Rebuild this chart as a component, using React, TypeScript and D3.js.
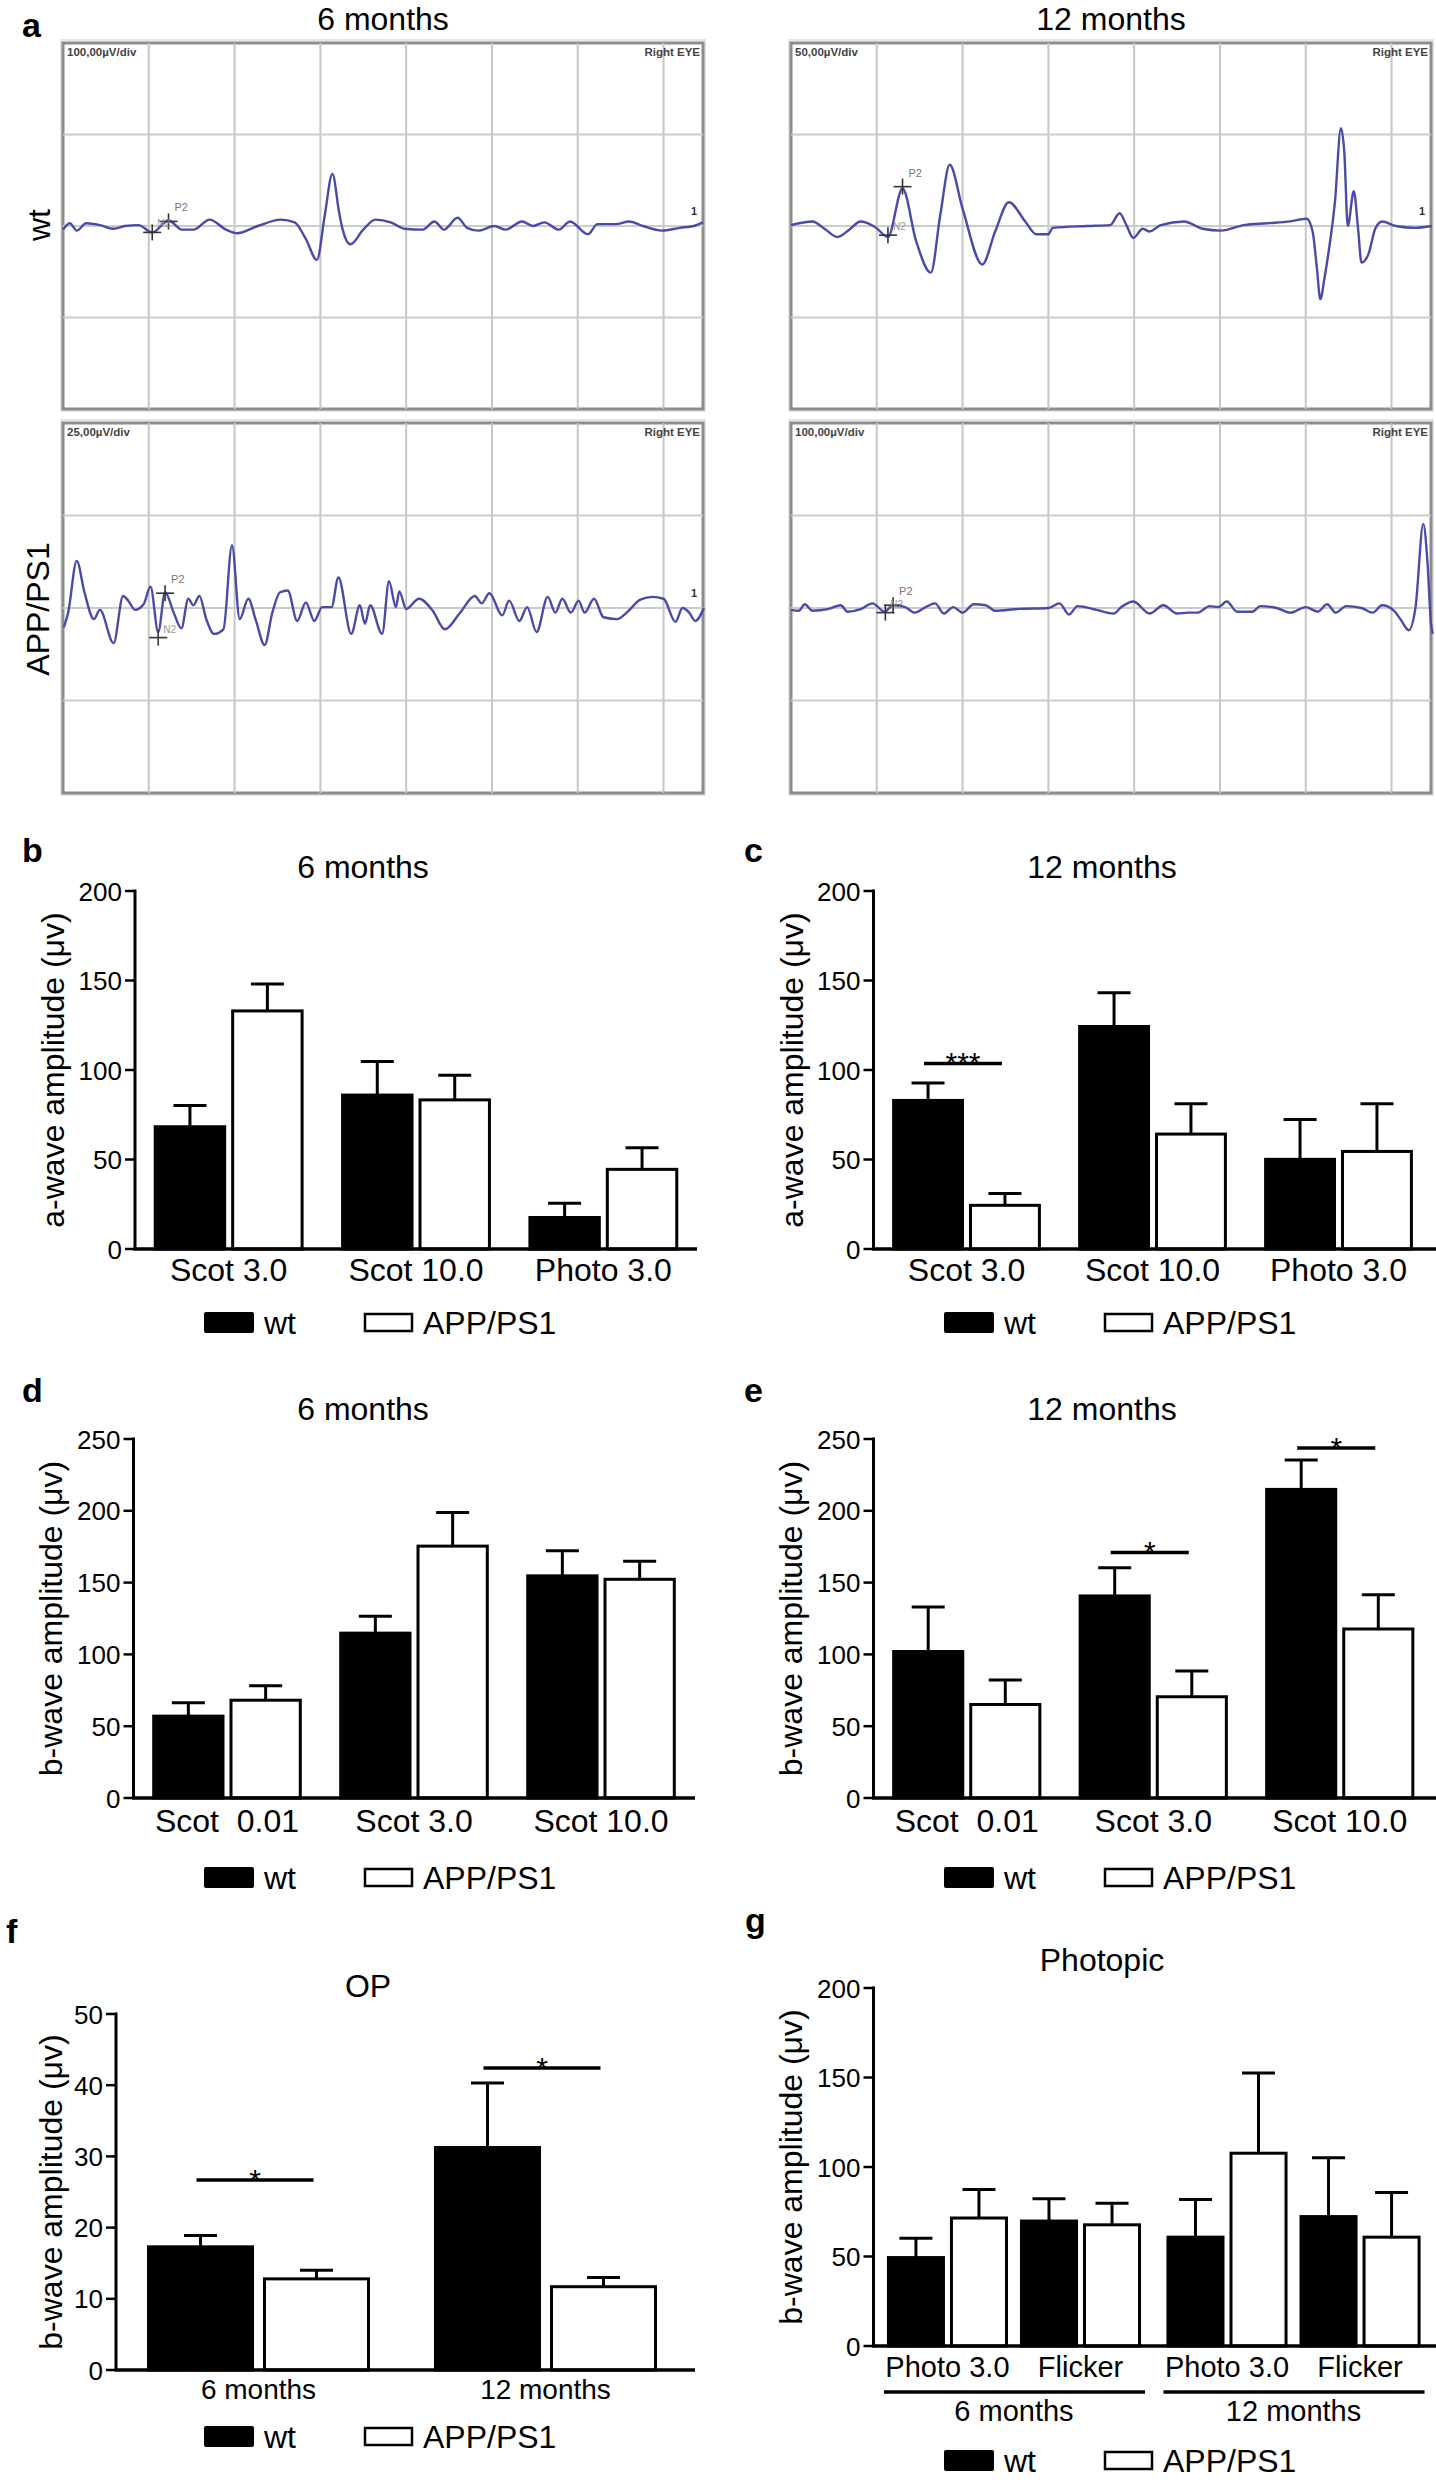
import React from "react";
import * as d3 from "d3";

const FONT = "'Liberation Sans', Arial, Helvetica, sans-serif";

type Pt = [number, number];

// ---------- Panel a: ERG traces, [time (grid div), amplitude (grid div)] ----------
const traceWt6: Pt[] = [[0,-0.04],[0.08,0.03],[0.16,-0.05],[0.27,0.03],[0.43,0.01],[0.59,-0.03],[0.72,0],[0.88,0.01],[1.04,-0.07],[1.23,0.06],[1.39,-0.04],[1.52,-0.04],[1.71,0.07],[1.9,-0.04],[2.03,-0.08],[2.27,0],[2.54,0.07],[2.7,0.04],[2.83,-0.14],[2.96,-0.37],[3.05,0.11],[3.14,0.57],[3.22,0.14],[3.26,-0.04],[3.35,-0.2],[3.5,-0.04],[3.64,0.07],[3.82,0.04],[3.98,-0.03],[4.19,-0.04],[4.33,0.05],[4.44,-0.04],[4.6,0.09],[4.71,-0.02],[4.84,-0.05],[5.03,0],[5.16,-0.04],[5.35,0.05],[5.48,0],[5.61,0.04],[5.78,-0.04],[5.91,0.05],[6.12,-0.09],[6.23,0.02],[6.44,0.02],[6.6,0.05],[6.76,0],[6.98,-0.05],[7.19,-0.02],[7.35,0],[7.46,0.04]];
const traceWt12: Pt[] = [[0,0.01],[0.25,0.05],[0.39,-0.03],[0.54,-0.12],[0.68,-0.04],[0.81,0.05],[0.98,-0.01],[1.13,-0.12],[1.3,0.41],[1.46,-0.17],[1.63,-0.51],[1.74,0.12],[1.85,0.67],[2.0,0.19],[2.23,-0.42],[2.38,-0.06],[2.54,0.26],[2.73,0.05],[2.86,-0.09],[3.0,-0.09],[3.05,-0.02],[3.45,0],[3.72,0.01],[3.83,0.14],[3.91,0.01],[3.99,-0.13],[4.1,-0.03],[4.18,-0.06],[4.31,0.01],[4.58,0.05],[4.8,-0.03],[5.01,-0.05],[5.28,0.01],[5.55,0.03],[5.82,0.05],[6.01,0.08],[6.08,-0.06],[6.13,-0.46],[6.17,-0.8],[6.22,-0.56],[6.27,-0.26],[6.34,0.26],[6.41,1.07],[6.45,0.8],[6.49,0],[6.56,0.38],[6.61,-0.03],[6.65,-0.4],[6.73,-0.31],[6.81,-0.03],[6.89,0.05],[7.05,0],[7.27,-0.02],[7.47,0]];
const traceApp6: Pt[] = [[0.01,-0.21],[0.06,-0.05],[0.16,0.51],[0.25,0.17],[0.36,-0.12],[0.43,-0.02],[0.59,-0.38],[0.7,0.13],[0.76,0.08],[0.84,-0.02],[0.94,0.04],[1.02,0.23],[1.11,-0.26],[1.19,0.17],[1.29,-0.05],[1.38,-0.22],[1.46,0.1],[1.52,0.03],[1.59,0.13],[1.67,-0.12],[1.76,-0.28],[1.87,-0.23],[1.97,0.68],[2.06,-0.12],[2.16,0.1],[2.25,-0.14],[2.35,-0.4],[2.44,-0.05],[2.53,0.17],[2.62,0.19],[2.73,-0.14],[2.83,0.06],[2.93,-0.14],[3.02,0.01],[3.13,0.01],[3.21,0.33],[3.36,-0.28],[3.46,0.03],[3.52,-0.17],[3.58,0.03],[3.72,-0.28],[3.8,0.29],[3.88,0.01],[3.92,0.18],[4.0,-0.01],[4.15,0.1],[4.31,-0.03],[4.45,-0.23],[4.63,-0.05],[4.8,0.13],[4.88,0.05],[4.97,0.16],[5.12,-0.08],[5.2,0.08],[5.32,-0.14],[5.41,0.01],[5.52,-0.26],[5.65,0.12],[5.74,-0.05],[5.82,0.1],[5.92,-0.05],[6.01,0.08],[6.08,-0.05],[6.19,0.1],[6.3,-0.1],[6.46,-0.12],[6.57,-0.05],[6.73,0.09],[6.87,0.12],[7.0,0.1],[7.14,-0.15],[7.22,0],[7.3,-0.05],[7.37,-0.14],[7.47,0]];
const traceApp12: Pt[] = [[0,-0.02],[0.09,-0.03],[0.16,0.04],[0.25,-0.03],[0.44,-0.01],[0.58,0.03],[0.66,-0.04],[0.82,-0.01],[0.95,0.05],[1.09,-0.04],[1.19,0.03],[1.33,0.01],[1.44,-0.05],[1.57,0.01],[1.68,0.05],[1.78,-0.06],[1.89,0.01],[2.0,-0.05],[2.13,0.04],[2.27,0.03],[2.38,-0.03],[2.65,-0.01],[3.0,0],[3.13,0.05],[3.24,-0.07],[3.34,0.02],[3.56,-0.02],[3.76,-0.06],[3.85,0.01],[3.99,0.07],[4.18,-0.06],[4.34,0.03],[4.5,-0.06],[4.63,-0.05],[4.74,-0.05],[4.88,0.02],[4.98,0.01],[5.08,0.07],[5.2,-0.04],[5.38,-0.04],[5.47,0.02],[5.66,0],[5.82,-0.05],[6.0,0.01],[6.14,-0.04],[6.25,0.04],[6.35,-0.05],[6.47,0.02],[6.65,0],[6.78,-0.05],[6.89,0.03],[7.03,-0.03],[7.11,-0.13],[7.2,-0.24],[7.28,0.01],[7.37,0.91],[7.42,0.48],[7.46,-0.17],[7.48,-0.28]];
const traceScaleLabels = ["100,00µV/div", "50,00µV/div", "25,00µV/div", "100,00µV/div"];
const traceMarksWt6: Pt[] = [[1.04, -0.07], [1.23, 0.05]];
const traceMarksWt12: Pt[] = [[1.13, -0.1], [1.3, 0.43]];
const traceMarksApp6: Pt[] = [[1.11, -0.32], [1.19, 0.16]];
const traceMarksApp12: Pt[] = [[1.1, -0.05], [1.19, 0.03]];

// ---------- Bar panels ----------
const groupNames = ["wt", "APP/PS1"];
const ticks200 = [0, 50, 100, 150, 200];
const ticks250 = [0, 50, 100, 150, 200, 250];
const ticks50 = [0, 10, 20, 30, 40, 50];

// b: a-wave 6 months
const catsAwave = ["Scot 3.0", "Scot 10.0", "Photo 3.0"];
const aWave6Wt = [68.3, 86, 17.6];
const aWave6WtErr = [11.8, 18.8, 8];
const aWave6App = [133, 83.3, 44.5];
const aWave6AppErr = [15, 13.7, 12.1];
// c: a-wave 12 months
const aWave12Wt = [83, 124.3, 50.1];
const aWave12WtErr = [9.8, 18.8, 22.2];
const aWave12App = [24.4, 64.2, 54.5];
const aWave12AppErr = [6.6, 16.9, 26.6];
// d: b-wave 6 months
const catsBwave = ["Scot  0.01", "Scot 3.0", "Scot 10.0"];
const bWave6Wt = [57, 114.8, 154.7];
const bWave6WtErr = [9.4, 11.7, 17.4];
const bWave6App = [68.1, 175.4, 152.3];
const bWave6AppErr = [10.1, 23.4, 12.5];
// e: b-wave 12 months
const bWave12Wt = [102, 140.7, 214.9];
const bWave12WtErr = [31, 19.6, 20.4];
const bWave12App = [65.1, 70.5, 117.7];
const bWave12AppErr = [17.1, 18, 23.9];
// f: OP
const catsOP = ["6 months", "12 months"];
const opWt = [17.3, 31.25];
const opWtErr = [1.6, 9.05];
const opApp = [12.8, 11.7];
const opAppErr = [1.2, 1.3];
// g: photopic
const catsAge = ["6 months", "12 months"];
const catsPhot = ["Photo 3.0", "Flicker"];
const photWt = [[49.4, 69.8], [60.8, 72.3]];
const photWtErr = [[10.8, 12.5], [21.1, 32.9]];
const photApp = [[71.5, 67.7], [107.7, 60.8]];
const photAppErr = [[16, 12.1], [44.8, 25]];

// significance: [category index, value level, stars]
const sigC: [number, number, string][] = [[0, 103.7, "***"]];
const sigE: [number, number, string][] = [[1, 171, "*"], [2, 243.7, "*"]];
const sigF: [number, number, string][] = [[0, 26.7, "*"], [1, 42.4, "*"]];

// ---------- Trace component ----------
function Trace(props: { x: number; y: number; w: number; h: number; data: Pt[]; label: string; marks: Pt[]; end?: boolean }) {
  const { x, y, w, h, data, label, marks, end } = props;
  const tx = d3.scaleLinear().domain([0, 7.46]).range([x, x + w]);
  const ty = d3.scaleLinear().domain([-2, 2]).range([y + h, y]);
  const line = d3.line<Pt>().x((d) => tx(d[0])).y((d) => ty(d[1])).curve(d3.curveMonotoneX);
  const vg = [1, 2, 3, 4, 5, 6, 7];
  const hg = [-1, 0, 1];
  return (
    <g>
      <rect x={x - 2} y={y - 3} width={w + 4} height={h + 5} fill="none" stroke="#e4e4e4" strokeWidth={2} />
      <rect x={x} y={y} width={w} height={h} fill="#fff" stroke="#8c8c8c" strokeWidth={3} />
      {vg.map((t) => (
        <line key={"v" + t} x1={tx(t)} x2={tx(t)} y1={y} y2={y + h} stroke="#c6c6c6" strokeWidth={2} />
      ))}
      {hg.map((v) => (
        <line key={"h" + v} x1={x} x2={x + w} y1={ty(v)} y2={ty(v)} stroke="#cbcbcb" strokeWidth={2.2} />
      ))}
      <text x={x + 4} y={y + 13} fontFamily={FONT} fontSize={11.5} fontWeight="bold" fill="#444">{label}</text>
      <text x={x + w - 3} y={y + 13} fontFamily={FONT} fontSize={11.5} fontWeight="bold" fill="#444" textAnchor="end">Right EYE</text>
      <path d={line(data) || ""} fill="none" stroke="#4a4aa8" strokeWidth={2.4} strokeLinejoin="round" />
      {marks.map((m, i) => (
        <g key={"m" + i} stroke="#333" strokeWidth={1.6}>
          <line x1={tx(m[0]) - 9} x2={tx(m[0]) + 9} y1={ty(m[1])} y2={ty(m[1])} />
          <line x1={tx(m[0])} x2={tx(m[0])} y1={ty(m[1]) - 8} y2={ty(m[1]) + 8} />
        </g>
      ))}
      <text x={tx(marks[1][0]) + 6} y={ty(Math.max(marks[0][1], marks[1][1])) - 10} fontFamily={FONT} fontSize={11} fill="#777">P2</text>
      <text x={tx(marks[0][0]) + 5} y={ty(marks[0][1]) - 5} fontFamily={FONT} fontSize={10} fill="#999">N2</text>
      {end && <text x={x + w - 6} y={ty(0.12)} fontFamily={FONT} fontSize={11} fontWeight="bold" fill="#333" textAnchor="end">1</text>}
    </g>
  );
}

// ---------- Bar helpers ----------
interface BarItem { x: number; w: number; v: number; e: number; fill: string; }

function BarsAndAxes(props: {
  axisX: number; yTop: number; y0: number; yMax: number; ticks: number[]; xEnd: number; items: BarItem[];
  yTitle: string; yTitleX: number; title: string; titleX: number; titleY: number; letter: string; letterX: number; letterY: number;
  sig?: { x1: number; x2: number; v: number; t: string }[];
}) {
  const p = props;
  const y = d3.scaleLinear().domain([0, p.yMax]).range([p.y0, p.yTop]);
  const capW = 33;
  return (
    <g>
      <text x={p.letterX} y={p.letterY} fontFamily={FONT} fontSize={34} fontWeight="bold">{p.letter}</text>
      <text x={p.titleX} y={p.titleY} fontFamily={FONT} fontSize={32} textAnchor="middle">{p.title}</text>
      {p.items.map((b, i) => {
        const cx = b.x + b.w / 2;
        return (
          <g key={i}>
            <line x1={cx} x2={cx} y1={y(b.v)} y2={y(b.v + b.e)} stroke="#000" strokeWidth={3} />
            <line x1={cx - capW / 2} x2={cx + capW / 2} y1={y(b.v + b.e)} y2={y(b.v + b.e)} stroke="#000" strokeWidth={3} />
            <rect x={b.x + 1.5} y={y(b.v)} width={b.w - 3} height={p.y0 - y(b.v)} fill={b.fill} stroke="#000" strokeWidth={3} />
          </g>
        );
      })}
      <line x1={p.axisX} x2={p.axisX} y1={p.yTop - 1.5} y2={p.y0} stroke="#000" strokeWidth={3} />
      <line x1={p.axisX - 1.5} x2={p.xEnd} y1={p.y0} y2={p.y0} stroke="#000" strokeWidth={3.5} />
      {p.ticks.map((t) => (
        <g key={t}>
          <line x1={p.axisX - 10} x2={p.axisX} y1={y(t)} y2={y(t)} stroke="#000" strokeWidth={2.5} />
          <text x={p.axisX - 13} y={y(t) + 9.5} fontFamily={FONT} fontSize={26} textAnchor="end">{t}</text>
        </g>
      ))}
      <text transform={`translate(${p.yTitleX},${(p.yTop + p.y0) / 2}) rotate(-90)`} y={11} fontFamily={FONT} fontSize={32} textAnchor="middle">{p.yTitle}</text>
      {(p.sig || []).map((s, i) => (
        <g key={"s" + i}>
          <line x1={s.x1} x2={s.x2} y1={y(s.v)} y2={y(s.v)} stroke="#000" strokeWidth={3.5} />
          <text x={(s.x1 + s.x2) / 2} y={y(s.v) + 10} fontFamily={FONT} fontSize={30} textAnchor="middle">{s.t}</text>
        </g>
      ))}
    </g>
  );
}

function Legend({ x, y }: { x: number; y: number }) {
  return (
    <g>
      <rect x={x} y={y - 10} width={50} height={21} fill="#000" rx={2} />
      <text x={x + 60} y={y + 11.5} fontFamily={FONT} fontSize={32}>{groupNames[0]}</text>
      <rect x={x + 161} y={y - 8} width={47} height={17} fill="#fff" stroke="#000" strokeWidth={2.5} />
      <text x={x + 219} y={y + 11.5} fontFamily={FONT} fontSize={32}>{groupNames[1]}</text>
    </g>
  );
}

function simpleItems(cats: string[], range: [number, number], pi: number, po: number, gap: number,
  wt: number[], wtE: number[], app: number[], appE: number[]) {
  const xb = d3.scaleBand<string>().domain(cats).range(range).paddingInner(pi).paddingOuter(po);
  const bw = (xb.bandwidth() - gap) / 2;
  const items: BarItem[] = [];
  cats.forEach((c, i) => {
    const x0 = xb(c) as number;
    items.push({ x: x0, w: bw, v: wt[i], e: wtE[i], fill: "#000" });
    items.push({ x: x0 + bw + gap, w: bw, v: app[i], e: appE[i], fill: "#fff" });
  });
  return { xb, bw, items };
}

function CatLabels({ xb, cats, y, size }: { xb: d3.ScaleBand<string>; cats: string[]; y: number; size: number }) {
  return (
    <g>
      {cats.map((c) => (
        <text key={c} x={(xb(c) as number) + xb.bandwidth() / 2} y={y} fontFamily={FONT} fontSize={size} textAnchor="middle" style={{ whiteSpace: "pre" }}>{c}</text>
      ))}
    </g>
  );
}

function sigLines(sig: [number, number, string][], cats: string[], xb: d3.ScaleBand<string>, bw: number, gap: number) {
  return sig.map(([i, v, t]) => {
    const x0 = xb(cats[i]) as number;
    return { x1: x0 + bw / 2 - 4, x2: x0 + bw + gap + bw / 2 - 3, v, t };
  });
}

export default function App() {
  const b = simpleItems(catsAwave, [135, 697], 0.2, 0.1, 5, aWave6Wt, aWave6WtErr, aWave6App, aWave6AppErr);
  const c = simpleItems(catsAwave, [873.5, 1431.5], 0.2, 0.1, 5, aWave12Wt, aWave12WtErr, aWave12App, aWave12AppErr);
  const d = simpleItems(catsBwave, [133.5, 694.5], 0.2, 0.1, 5, bWave6Wt, bWave6WtErr, bWave6App, bWave6AppErr);
  const e = simpleItems(catsBwave, [873.5, 1433], 0.2, 0.1, 5, bWave12Wt, bWave12WtErr, bWave12App, bWave12AppErr);
  const f = simpleItems(catsOP, [116, 688], 0.223, 0.108, 9, opWt, opWtErr, opApp, opAppErr);

  // g: nested bands
  const gOuter = d3.scaleBand<string>().domain(catsAge).range([873.5, 1434]).paddingInner(0.091).paddingOuter(0.048);
  const gInner = d3.scaleBand<string>().domain(catsPhot).range([0, gOuter.bandwidth()]).paddingInner(0.09).paddingOuter(0);
  const gGap = 5;
  const gbw = (gInner.bandwidth() - gGap) / 2;
  const gItems: BarItem[] = [];
  catsAge.forEach((a, ai) => {
    catsPhot.forEach((p, pi) => {
      const x0 = (gOuter(a) as number) + (gInner(p) as number);
      gItems.push({ x: x0, w: gbw, v: photWt[ai][pi], e: photWtErr[ai][pi], fill: "#000" });
      gItems.push({ x: x0 + gbw + gGap, w: gbw, v: photApp[ai][pi], e: photAppErr[ai][pi], fill: "#fff" });
    });
  });

  const tW = 640;
  return (
    <div style={{ position: "absolute", left: 0, top: 0 }}>
      <svg width={1436} height={2482} viewBox="0 0 1436 2482" style={{ display: "block", background: "#fff" }}>
        <rect x={0} y={0} width={1436} height={2482} fill="#fff" />
        {/* Panel a */}
        <text x={22} y={37} fontFamily={FONT} fontSize={34} fontWeight="bold">a</text>
        <text x={383} y={30} fontFamily={FONT} fontSize={32} textAnchor="middle">6 months</text>
        <text x={1111} y={30} fontFamily={FONT} fontSize={32} textAnchor="middle">12 months</text>
        <text transform="translate(39,225) rotate(-90)" y={11} fontFamily={FONT} fontSize={32} textAnchor="middle">wt</text>
        <text transform="translate(38,609) rotate(-90)" y={11} fontFamily={FONT} fontSize={32} textAnchor="middle">APP/PS1</text>
        <Trace x={63} y={43} w={tW} h={366} data={traceWt6} label={traceScaleLabels[0]} marks={traceMarksWt6} end />
        <Trace x={791} y={43} w={tW} h={366} data={traceWt12} label={traceScaleLabels[1]} marks={traceMarksWt12} end />
        <Trace x={63} y={423} w={tW} h={370} data={traceApp6} label={traceScaleLabels[2]} marks={traceMarksApp6} end />
        <Trace x={791} y={423} w={tW} h={370} data={traceApp12} label={traceScaleLabels[3]} marks={traceMarksApp12} />

        {/* Panel b */}
        <BarsAndAxes axisX={135} yTop={891} y0={1249} yMax={200} ticks={ticks200} xEnd={697} items={b.items}
          yTitle="a-wave amplitude (μv)" yTitleX={53} title="6 months" titleX={363} titleY={878}
          letter="b" letterX={22} letterY={862} />
        <CatLabels xb={b.xb} cats={catsAwave} y={1281} size={32} />
        <Legend x={204} y={1322} />

        {/* Panel c */}
        <BarsAndAxes axisX={873.5} yTop={891} y0={1249} yMax={200} ticks={ticks200} xEnd={1436} items={c.items}
          yTitle="a-wave amplitude (μv)" yTitleX={792} title="12 months" titleX={1102} titleY={878}
          letter="c" letterX={744} letterY={862} sig={sigLines(sigC, catsAwave, c.xb, c.bw, 5)} />
        <CatLabels xb={c.xb} cats={catsAwave} y={1281} size={32} />
        <Legend x={944} y={1322} />

        {/* Panel d */}
        <BarsAndAxes axisX={133.5} yTop={1439} y0={1798} yMax={250} ticks={ticks250} xEnd={695} items={d.items}
          yTitle="b-wave amplitude (μv)" yTitleX={51} title="6 months" titleX={363} titleY={1420}
          letter="d" letterX={22} letterY={1402} />
        <CatLabels xb={d.xb} cats={catsBwave} y={1832} size={32} />
        <Legend x={204} y={1877} />

        {/* Panel e */}
        <BarsAndAxes axisX={873.5} yTop={1439} y0={1798} yMax={250} ticks={ticks250} xEnd={1436} items={e.items}
          yTitle="b-wave amplitude (μv)" yTitleX={791} title="12 months" titleX={1102} titleY={1420}
          letter="e" letterX={744} letterY={1402} sig={sigLines(sigE, catsBwave, e.xb, e.bw, 5)} />
        <CatLabels xb={e.xb} cats={catsBwave} y={1832} size={32} />
        <Legend x={944} y={1877} />

        {/* Panel f */}
        <BarsAndAxes axisX={116} yTop={2014} y0={2370} yMax={50} ticks={ticks50} xEnd={695} items={f.items}
          yTitle="b-wave amplitude (μv)" yTitleX={51} title="OP" titleX={368} titleY={1997}
          letter="f" letterX={6} letterY={1943} sig={sigLines(sigF, catsOP, f.xb, f.bw, 9)} />
        <CatLabels xb={f.xb} cats={catsOP} y={2399} size={28} />
        <Legend x={204} y={2436} />

        {/* Panel g */}
        <BarsAndAxes axisX={873.5} yTop={1988} y0={2346} yMax={200} ticks={ticks200} xEnd={1436} items={gItems}
          yTitle="b-wave amplitude (μv)" yTitleX={791} title="Photopic" titleX={1102} titleY={1971}
          letter="g" letterX={745} letterY={1932} />
        {catsAge.map((a) => {
          const x0 = gOuter(a) as number;
          return (
            <g key={a}>
              {catsPhot.map((p) => (
                <text key={p} x={x0 + (gInner(p) as number) + gInner.bandwidth() / 2} y={2377} fontFamily={FONT} fontSize={29} textAnchor="middle">{p}</text>
              ))}
              <line x1={x0 - 3} x2={x0 + gOuter.bandwidth() + 4} y1={2392} y2={2392} stroke="#000" strokeWidth={3.5} />
              <text x={x0 + gOuter.bandwidth() / 2} y={2421} fontFamily={FONT} fontSize={29} textAnchor="middle">{a}</text>
            </g>
          );
        })}
        <Legend x={944} y={2460} />
      </svg>
    </div>
  );
}
